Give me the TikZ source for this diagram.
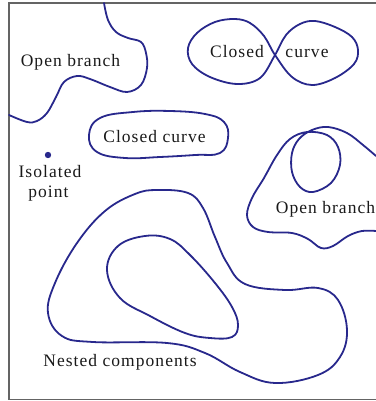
\documentclass[tikz,border=0pt]{standalone}
\usepackage{fontspec}
\setmainfont[LetterSpace=6]{Liberation Serif}
\definecolor{curvecol}{RGB}{40,40,140}
\definecolor{textcol}{RGB}{25,25,25}
\definecolor{framecol}{RGB}{100,100,100}
\tikzset{
  curve/.style={draw=curvecol, line width=1.8pt, line join=round, line cap=round},
  lbl/.style={text=textcol, font=\fontsize{17.5}{20}\selectfont, inner sep=0pt, anchor=base},
  framel/.style={draw=framecol, line width=1.4pt},
}
\begin{document}
\begin{tikzpicture}[x=1pt,y=-1pt]
\useasboundingbox (0,0) rectangle (375,401);
% frame (left, top, bottom)
\draw[framel] (376,3) -- (9,3) -- (9,399.5) -- (376,399.5);

% open branch top-left
\draw[curve] plot[smooth, tension=0.6] coordinates {(104,3) (108,20) (116,32) (128,38) (141,42) (146,53) (147,68) (141,85) (127,92) (110,87) (90,79) (77,76) (64,82) (56,97) (47,113) (37,121) (27,122) (9,115)};

% figure-eight closed curve
\draw[curve] plot[smooth cycle, tension=0.6] coordinates {(275,55) (264,36) (250,23) (235,19) (215,22) (197,33) (188,48) (192,64) (210,77) (237,84) (260,78)
  (275,55) (286,35) (300,24) (315,21) (335,27) (352,37) (358,50) (354,64) (335,78) (312,85) (292,77)};

% middle closed curve
\draw[curve] plot[smooth cycle, tension=0.7] coordinates {(89,135) (100,118) (133,112) (170,111) (205,114) (224,122) (228,138) (220,153) (195,155) (160,157) (125,158) (97,152)};

% open branch right with loop
\draw[curve] plot[smooth, tension=0.6] coordinates {(376,231) (362,231) (348,236) (333,246) (321,248) (308,239) (292,233) (268,232) (253,227) (247,215) (252,198) (264,178) (277,155) (290,139) (307,132) (327,135) (338,147) (340,165) (331,183) (313,192) (300,187) (292,172) (292,153) (299,139) (312,130) (328,127) (347,133) (363,145) (376,156)};

% nested components: outer
\draw[curve] plot[smooth cycle, tension=0.65] coordinates {(157,190) (188,193) (203,208) (215,237) (227,263) (245,284) (285,290) (318,288) (338,300) (347,330) (340,357) (318,375) (275,383) (240,372) (205,353) (167,343) (93,342) (62,336) (48,313) (55,283) (77,243) (105,211) (135,194)};
% nested components: inner
\draw[curve] plot[smooth cycle, tension=0.65] coordinates {(107,270) (118,246) (145,236) (170,239) (190,255) (215,283) (232,307) (238,325) (232,337) (210,338) (185,333) (150,316) (120,298)};

% isolated point
\fill[curvecol] (48,155) circle (3.2pt) coordinate (pt);

% labels
\node[lbl] (ob1) at (70.5,67) {Open branch};
\node[lbl] (cc1) at (237,58) {Closed};
\node[lbl] (cc2) at (307,58) {curve};
\node[lbl] (cc3) at (154.5,142) {Closed curve};
\node[lbl] (ip1) at (50,177) {Isolated};
\node[lbl] (ip2) at (48.5,197) {point};
\node[lbl] (ob2) at (325.5,213) {Open branch};
\node[lbl] (nc) at (120,366.5) {Nested components};
\end{tikzpicture}
\end{document}
